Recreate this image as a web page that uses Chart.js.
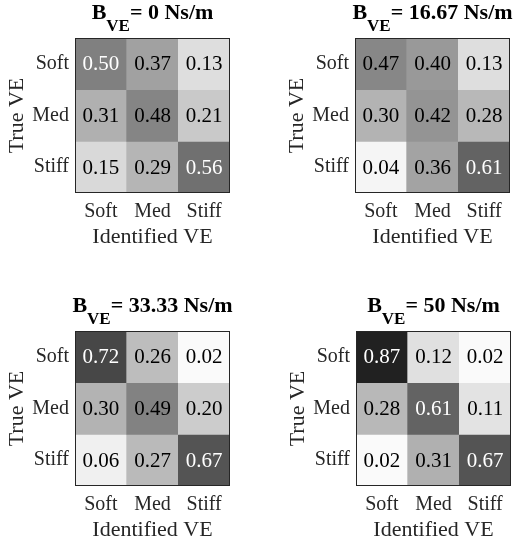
<!DOCTYPE html>
<html>
<head>
<meta charset="utf-8">
<script src="https://cdn.jsdelivr.net/npm/chart.js@4"></script>
<style>
  html, body { margin: 0; padding: 0; background: #fff; overflow: hidden; }
  body { width: 514px; height: 544px; position: relative; }
  canvas { position: absolute; }
</style>
</head>
<body>
<canvas id="m0" width="257" height="272" style="left:0px;top:0px"></canvas>
<canvas id="m1" width="257" height="272" style="left:280px;top:0px"></canvas>
<canvas id="m2" width="257" height="272" style="left:0px;top:293px"></canvas>
<canvas id="m3" width="257" height="272" style="left:281px;top:293px"></canvas>
<script>
// etiquetas e dados das matrizes
const rowLabels = ["Soft", "Med", "Stiff"];
const colLabels = ["Soft", "Med", "Stiff"];
const dampingValues = ["0", "16.67", "33.33", "50"];
const matrix0 = [[0.50, 0.37, 0.13], [0.31, 0.48, 0.21], [0.15, 0.29, 0.56]];
const matrix1 = [[0.47, 0.40, 0.13], [0.30, 0.42, 0.28], [0.04, 0.36, 0.61]];
const matrix2 = [[0.72, 0.26, 0.02], [0.30, 0.49, 0.20], [0.06, 0.27, 0.67]];
const matrix3 = [[0.87, 0.12, 0.02], [0.28, 0.61, 0.11], [0.02, 0.31, 0.67]];
const matrices = [matrix0, matrix1, matrix2, matrix3];

const serif = "'Liberation Serif', 'Times New Roman', serif";
const textColor = "#262626";

function gray(v) {
    const g = Math.round((1 - v) * 255);
    return "rgb(" + g + "," + g + "," + g + ")";
}

// desenha os valores dentro das celulas e a moldura
const cellText = {
    id: "cellText",
    afterDatasetsDraw(chart) {
        const ctx = chart.ctx;
        const m = chart.options.plugins.cellText.matrix;
        ctx.save();
        ctx.font = "21px " + serif;
        ctx.textAlign = "center";
        ctx.textBaseline = "middle";
        chart.data.datasets.forEach((ds, r) => {
            chart.getDatasetMeta(r).data.forEach((bar, c) => {
                const v = m[r][c];
                ctx.fillStyle = v >= 0.5 ? "#fff" : "#000";
                ctx.fillText(v.toFixed(2), bar.x, (bar.y + bar.base) / 2 + 1);
            });
        });
        const a = chart.chartArea;
        ctx.strokeStyle = "#262626";
        ctx.lineWidth = 1;
        ctx.strokeRect(Math.round(a.left) + 0.5, Math.round(a.top) + 0.5,
            Math.round(a.right - a.left) - 1, Math.round(a.bottom - a.top) - 1);
        ctx.restore();
    }
};

// titulo com subscrito
const subTitle = {
    id: "subTitle",
    afterDraw(chart, args, opts) {
        const ctx = chart.ctx;
        const a = chart.chartArea;
        const main = "bold 22px " + serif;
        const sub = "bold 17px " + serif;
        const rest = "= " + opts.value + " Ns/m";
        ctx.save();
        ctx.fillStyle = "#000";
        ctx.textBaseline = "alphabetic";
        ctx.textAlign = "left";
        ctx.font = main;
        const wB = ctx.measureText("B").width;
        const wR = ctx.measureText(rest).width;
        ctx.font = sub;
        const wS = ctx.measureText("VE").width;
        let x = (a.left + a.right) / 2 - (wB + wS + wR) / 2;
        const y = a.top - 19;
        ctx.font = main;
        ctx.fillText("B", x, y);
        x += wB;
        ctx.font = sub;
        ctx.fillText("VE", x, y + 12);
        x += wS;
        ctx.font = main;
        ctx.fillText(rest, x, y);
        ctx.restore();
    }
};

function drawMatrix(m, k) {
    const ctx = document.getElementById("m" + k).getContext("2d");
    new Chart(ctx, {
        type: "bar",
        data: {
            labels: colLabels,
            datasets: rowLabels.map((row, r) => ({
                label: row,
                data: colLabels.map(() => [r, r + 1]),
                backgroundColor: m[r].map(gray),
                borderWidth: 0,
                barPercentage: 1,
                categoryPercentage: 1,
                grouped: false
            }))
        },
        options: {
            responsive: false,
            animation: false,
            layout: { padding: { left: 0, top: 38, right: 27, bottom: 0 } },
            plugins: {
                legend: { display: false },
                tooltip: { enabled: false },
                cellText: { matrix: m },
                subTitle: { value: dampingValues[k] }
            },
            scales: {
                x: {
                    type: "category",
                    grid: { display: false, drawTicks: false },
                    border: { display: false },
                    ticks: { color: textColor, font: { family: serif, size: 20 }, padding: 7, maxRotation: 0 },
                    title: { display: true, text: "Identified VE", color: textColor,
                        font: { family: serif, size: 22 }, padding: { top: 4, bottom: 22 } },
                    afterFit: scale => { scale.height = 79; }
                },
                y: {
                    type: "linear",
                    min: 0,
                    max: 3,
                    reverse: true,
                    grid: { display: false, drawTicks: false },
                    border: { display: false },
                    afterBuildTicks: scale => {
                        scale.ticks = [{ value: 0.5 }, { value: 1.5 }, { value: 2.5 }];
                    },
                    ticks: {
                        color: textColor,
                        font: { family: serif, size: 20 },
                        padding: 6,
                        callback: v => rowLabels[Math.floor(v)]
                    },
                    title: { display: true, text: "True VE", color: textColor,
                        font: { family: serif, size: 22 }, padding: { top: 4, bottom: 0 } },
                    afterFit: scale => { scale.width = 75; }
                }
            }
        },
        plugins: [cellText, subTitle]
    });
}

// espera as fontes antes de desenhar
Promise.all([
    document.fonts.load("20px 'Liberation Serif'"),
    document.fonts.load("bold 20px 'Liberation Serif'")
]).catch(() => null).then(() => {
    matrices.forEach(drawMatrix);
});
</script>
</body>
</html>
